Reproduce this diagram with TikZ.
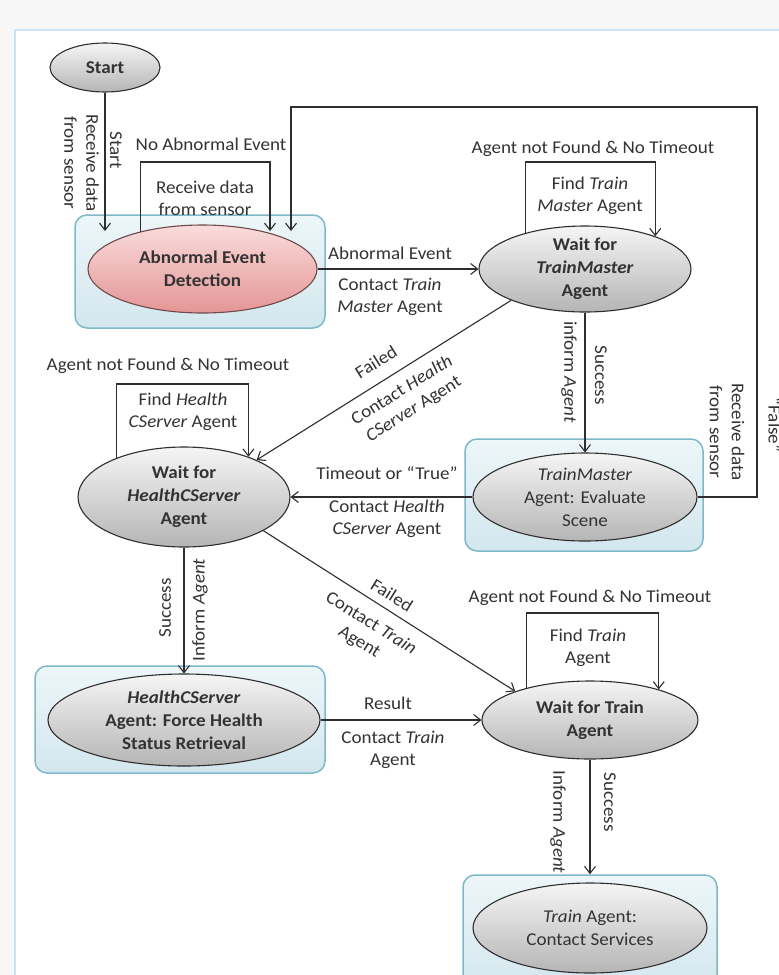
\documentclass[tikz,border=0pt]{standalone}
\usepackage{fontspec}
\setmainfont{Carlito}[FakeStretch=1.06]
\usetikzlibrary{shapes.geometric,arrows.meta,calc}
\definecolor{bgc}{HTML}{F7F7F7}
\definecolor{panelc}{HTML}{CBE3F7}
\definecolor{linec}{HTML}{2E2E2E}
\definecolor{txtc}{HTML}{333333}
\definecolor{gtop}{HTML}{F5F5F5}
\definecolor{gbot}{HTML}{B5B5B5}
\definecolor{ptop}{HTML}{FADCDC}
\definecolor{pbot}{HTML}{E49595}
\definecolor{pdraw}{HTML}{6E4A4A}
\definecolor{boxtop}{HTML}{EDF6F9}
\definecolor{boxbot}{HTML}{D3E7EE}
\definecolor{boxdraw}{HTML}{7DB9C9}
\begin{document}
\begin{tikzpicture}[x=1pt,y=-1pt,
 arr/.style={draw=linec, line width=1.1pt, -{Straight Barb[length=7pt,width=11pt,line width=1.1pt]}},
 gell/.style={ellipse, draw=linec, line width=1.1pt, top color=gtop, bottom color=gbot, inner sep=0pt},
 pell/.style={ellipse, draw=pdraw, line width=1.1pt, top color=ptop, bottom color=pbot, inner sep=0pt},
 gbox/.style={rectangle, rounded corners=12pt, draw=boxdraw, line width=1.5pt, top color=boxtop, bottom color=boxbot, inner sep=0pt},
 ntxt/.style={text=txtc, align=center, inner sep=0pt, font=\fontsize{18}{23}\selectfont\bfseries},
 rtxt/.style={text=txtc, align=center, inner sep=0pt, font=\fontsize{18}{23}\selectfont},
 ltxt/.style={text=txtc, align=center, inner sep=0pt, font=\fontsize{18}{22}\selectfont},
]
\useasboundingbox (0,0) rectangle (779,975);
\clip (0,0) rectangle (779,975);
\fill[bgc] (0,0) rectangle (779,975);
\fill[white] (15,30) rectangle (790,990);
\draw[panelc, line width=2.5pt] (15,990) -- (15,30) -- (790,30);

% nodes
\node[gell, minimum width=110pt, minimum height=49pt] (start) at (105,67.5) {};
\node[ntxt] (startT) at (start) {Start};

\node[gbox, minimum width=250pt, minimum height=113pt] (aedbox) at (200,271.5) {};
\node[pell, minimum width=229pt, minimum height=88pt] (aed) at (202.5,269) {};
\node[ntxt] (aedT) at (aed) {Abnormal Event\\Detection};

\node[gell, minimum width=212pt, minimum height=86pt] (wtm) at (585,269) {};
\node[ntxt] (wtmT) at (wtm) {Wait for\\\textit{TrainMaster}\\Agent};

\node[gbox, minimum width=238pt, minimum height=112pt] (tmebox) at (584,495) {};
\node[gell, minimum width=224pt, minimum height=88pt] (tme) at (585,497) {};
\node[rtxt] (tmeT) at (tme) {\textit{TrainMaster}\\Agent: Evaluate\\Scene};

\node[gell, minimum width=212pt, minimum height=100pt] (whc) at (184,497) {};
\node[ntxt] (whcT) at (whc) {Wait for\\\textit{HealthCServer}\\Agent};

\node[gbox, minimum width=290pt, minimum height=107pt] (hcfbox) at (180,719.5) {};
\node[gell, minimum width=272pt, minimum height=92pt] (hcf) at (184,720) {};
\node[ntxt] (hcfT) at (hcf) {\textit{HealthCServer}\\Agent: Force Health\\Status Retrieval};

\node[gell, minimum width=216pt, minimum height=78pt] (wtr) at (590,720) {};
\node[ntxt] (wtrT) at (wtr) {Wait for Train\\Agent};

\node[gbox, minimum width=254pt, minimum height=115pt] (tcabox) at (590,932.5) {};
\node[gell, minimum width=234pt, minimum height=90pt] (tca) at (590,928) {};
\node[rtxt] (tcaT) at (tca) {\textit{Train} Agent:\\Contact Services};

% connectors
\coordinate (aedin) at (0,231);
\draw[arr] (start) -- (start |- aedin);
\coordinate (aedlt) at (0,162);
\coordinate (aedle) at (270,231);
\draw[arr] (aed.149) |- (aedle |- aedlt) -- (aedle);
\coordinate (bl1) at (757,107);
\coordinate (bl2) at (291,231);
\draw[arr] (tme.east) -| (bl1) -| (bl2);
\draw[arr] (aed) -- (wtm);
\coordinate (wtmt) at (0,162);
\draw[arr] (wtm.149) |- (wtm.25 |- wtmt) -- (wtm.25);
\draw[arr] (wtm) -- (tme);
\draw[arr] (wtm.203) -- (whc.27);
\draw[arr] (tme) -- (whc);
\coordinate (whct) at (0,384);
\draw[arr] (whc.150) |- (whc.32 |- whct) -- (whc.32);
\draw[arr] (whc) -- (hcf);
\draw[arr] (whc.337) -- (wtr.159);
\draw[arr] (hcf) -- (wtr);
\coordinate (wtrt) at (0,613);
\draw[arr] (wtr.153) |- (wtr.24 |- wtrt) -- (wtr.24);
\draw[arr] (wtr) -- (tcabox);

% labels
\node[ltxt, rotate=-90] (l1) at (116,150) {Start};
\node[ltxt, rotate=-90] (l2) at (81.5,163) {Receive data\\from sensor};
\node[ltxt] (l3) at (211,144) {No Abnormal Event};
\node[ltxt] (l4) at (205,198) {Receive data\\from sensor};
\node[ltxt] (l5) at (390,253) {Abnormal Event};
\node[ltxt] (l6) at (390,297) {Contact \textit{Train}\\\textit{Master} Agent};
\node[ltxt] (l7) at (593,149) {Agent not Found \& No Timeout};
\node[ltxt] (l8) at (590,196) {Find \textit{Train}\\\textit{Master} Agent};
\node[ltxt, rotate=-90] (l9) at (569,372) {inform \textit{Agent}};
\node[ltxt, rotate=-90] (l10) at (601,375) {Success};
\node[ltxt, rotate=-90] (l11) at (727,432) {Receive data\\from sensor};
\node[ltxt, rotate=-90] (l12) at (775,425) {“False”};
\node[ltxt, rotate=32] (l13) at (376,362) {Failed};
\node[ltxt, rotate=32] (l14) at (408,400) {Contact \textit{Health}\\\textit{CServer} Agent};
\node[ltxt] (l15) at (168,366) {Agent not Found \& No Timeout};
\node[ltxt] (l16) at (183,412) {Find \textit{Health}\\\textit{CServer} Agent};
\node[ltxt] (l17) at (387,473) {Timeout or “True”};
\node[ltxt] (l18) at (387,519) {Contact \textit{Health}\\\textit{CServer} Agent};
\node[ltxt, rotate=90] (l19) at (165,608) {Success};
\node[ltxt, rotate=90] (l20) at (200,610) {Inform \textit{Agent}};
\node[ltxt, rotate=-32] (l21) at (392,595) {Failed};
\node[ltxt, rotate=-32] (l22) at (365,633) {Contact \textit{Train}\\Agent};
\node[ltxt] (l23) at (388,703) {Result};
\node[ltxt] (l24) at (393,750) {Contact \textit{Train}\\Agent};
\node[ltxt] (l25) at (590,598) {Agent not Found \& No Timeout};
\node[ltxt] (l26) at (588,648) {Find \textit{Train}\\Agent};
\node[ltxt, rotate=-90] (l27) at (558,822) {Inform \textit{Agent}};
\node[ltxt, rotate=-90] (l28) at (610,802) {Success};
\end{tikzpicture}
\end{document}
